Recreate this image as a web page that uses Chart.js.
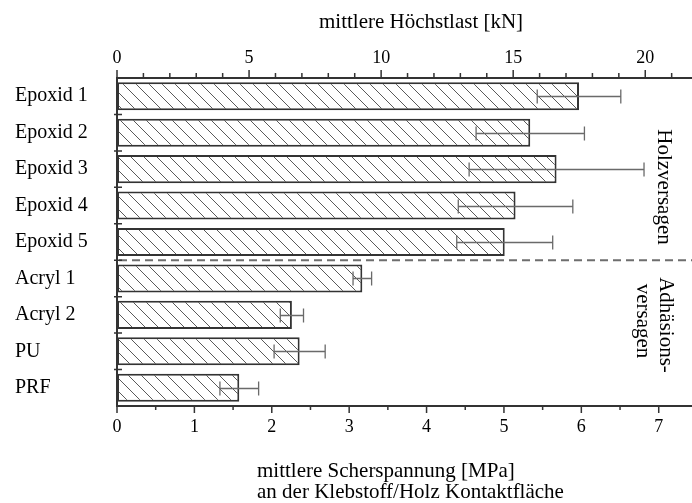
<!DOCTYPE html>
<html>
<head>
<meta charset="utf-8">
<script src="https://cdn.jsdelivr.net/npm/chart.js@4/dist/chart.umd.min.js"></script>
<style>
  html, body { margin: 0; padding: 0; background: #fff; }
  #wrap { width: 692px; height: 503px; }
</style>
</head>
<body>
<div id="wrap"><canvas id="c" width="692" height="503"></canvas></div>
<script>
// Adhesives tested and their mean shear stress at the adhesive/wood contact area
const adhesives = ['Epoxid 1', 'Epoxid 2', 'Epoxid 3', 'Epoxid 4', 'Epoxid 5', 'Acryl 1', 'Acryl 2', 'PU', 'PRF'];
const shearStressMPa = [5.97, 5.34, 5.68, 5.15, 5.01, 3.17, 2.26, 2.36, 1.58];
const shearStressSD = [0.54, 0.70, 1.13, 0.74, 0.62, 0.12, 0.15, 0.33, 0.25];
const stressTicksMPa = [0, 1, 2, 3, 4, 5, 6, 7];
const loadTicksKN = [0, 5, 10, 15, 20];
const KN_PER_MPA = 2.93;        // mean max load per MPa of shear stress
const WOOD_FAILURE_COUNT = 5;   // the epoxies fail in the wood, the rest by adhesion
const X_MAX_MPA = 7.43;

const SERIF = '"Liberation Serif", "Times New Roman", serif';

// diagonal "\\\\" hatching for the bars
function hatchPattern() {
  const s = 13;
  const c = document.createElement('canvas');
  c.width = s; c.height = s;
  const g = c.getContext('2d');
  g.fillStyle = '#fff';
  g.fillRect(0, 0, s, s);
  g.strokeStyle = '#5a5a5a';
  g.lineWidth = 1;
  g.beginPath();
  for (const k of [-s, 0, s]) { g.moveTo(k, 0); g.lineTo(k + s, s); }
  g.stroke();
  return g.createPattern(c, 'repeat');
}

const decorations = {
  id: 'decorations',
  afterDatasetsDraw(chart) {
    const { ctx, chartArea: a, scales: { x, y } } = chart;
    ctx.save();
    // error bars
    ctx.strokeStyle = '#6a6a6a';
    ctx.lineWidth = 1.3;
    shearStressMPa.forEach((v, i) => {
      const yc = Math.round(y.getPixelForValue(i)) + 0.5;
      const lo = x.getPixelForValue(v - shearStressSD[i]);
      const hi = x.getPixelForValue(v + shearStressSD[i]);
      ctx.beginPath();
      ctx.moveTo(lo, yc); ctx.lineTo(hi, yc);
      ctx.moveTo(lo, yc - 7); ctx.lineTo(lo, yc + 7);
      ctx.moveTo(hi, yc - 7); ctx.lineTo(hi, yc + 7);
      ctx.stroke();
    });
    // separator between wood failure and adhesion failure
    const ySep = (y.getPixelForValue(WOOD_FAILURE_COUNT - 1) + y.getPixelForValue(WOOD_FAILURE_COUNT)) / 2;
    ctx.setLineDash([8, 5]);
    ctx.strokeStyle = '#6e6e6e';
    ctx.lineWidth = 2;
    ctx.beginPath();
    ctx.moveTo(a.left + 2, ySep); ctx.lineTo(a.right, ySep);
    ctx.stroke();
    ctx.restore();
  },
  afterDraw(chart) {
    const { ctx, chartArea: a, scales: { x, x2, y } } = chart;
    ctx.save();
    ctx.strokeStyle = '#333';
    ctx.lineWidth = 1.5;
    ctx.beginPath();
    // bottom axis: major every 1 MPa, minor every 0.5 MPa
    for (let v = 0; v <= x.max + 1e-9; v += 0.5) {
      const px = x.getPixelForValue(v);
      const len = Number.isInteger(v) ? 7 : 4;
      ctx.moveTo(px, a.bottom); ctx.lineTo(px, a.bottom + len);
    }
    // top axis: major every 5 kN, minor every 1 kN
    for (let k = 0; k <= x2.max + 1e-9; k += 1) {
      const px = x2.getPixelForValue(k);
      const len = k % 5 === 0 ? 8 : 5;
      ctx.moveTo(px, a.top); ctx.lineTo(px, a.top - len);
    }
    // category separators on the left axis
    for (let i = 1; i < adhesives.length; i++) {
      const yb = (y.getPixelForValue(i - 1) + y.getPixelForValue(i)) / 2;
      ctx.moveTo(a.left - 3, yb); ctx.lineTo(a.left + 5, yb);
    }
    ctx.stroke();

    // axis titles
    ctx.fillStyle = '#000';
    ctx.textAlign = 'left';
    ctx.textBaseline = 'middle';
    ctx.font = '21px ' + SERIF;
    ctx.fillText('mittlere Höchstlast [kN]', 319, 22);
    ctx.fillText('mittlere Scherspannung [MPa]', 257, 471);
    ctx.fillText('an der Klebstoff/Holz Kontaktfläche', 257, 492);

    // failure mode labels, reading top to bottom
    ctx.textAlign = 'center';
    ctx.font = '21px ' + SERIF;
    const vertical = (text, cx, cy) => {
      ctx.save();
      ctx.translate(cx, cy);
      ctx.rotate(Math.PI / 2);
      ctx.fillText(text, 0, 0);
      ctx.restore();
    };
    vertical('Holzversagen', 664, 187);
    vertical('Adhäsions-', 666, 325);
    vertical('versagen', 643, 321);
    ctx.restore();
  }
};

new Chart(document.getElementById('c'), {
  type: 'bar',
  data: {
    labels: adhesives,
    datasets: [{
      data: shearStressMPa,
      xAxisID: 'x',
      yAxisID: 'y',
      backgroundColor: hatchPattern(),
      borderColor: '#333',
      borderWidth: 2,
      borderSkipped: false,
      categoryPercentage: 1,
      barPercentage: 0.77
    }]
  },
  options: {
    indexAxis: 'y',
    responsive: false,
    animation: false,
    devicePixelRatio: 1,
    layout: { padding: { left: 15, right: 0, top: 0, bottom: 0 } },
    plugins: { legend: { display: false }, tooltip: { enabled: false } },
    scales: {
      x: {
        type: 'linear',
        position: 'bottom',
        min: 0,
        max: X_MAX_MPA,
        afterBuildTicks: s => { s.ticks = stressTicksMPa.map(v => ({ value: v })); },
        ticks: { color: '#000', font: { family: SERIF, size: 18 }, padding: 10, maxRotation: 0 },
        grid: { display: false, drawTicks: false },
        border: { display: true, color: '#333', width: 2 },
        afterFit: s => { s.height = 97; }
      },
      x2: {
        type: 'linear',
        position: 'top',
        min: 0,
        max: X_MAX_MPA * KN_PER_MPA,
        afterBuildTicks: s => { s.ticks = loadTicksKN.map(v => ({ value: v })); },
        ticks: { color: '#000', font: { family: SERIF, size: 18 }, padding: 9, maxRotation: 0 },
        grid: { display: false, drawTicks: false },
        border: { display: true, color: '#333', width: 2 },
        afterFit: s => { s.height = 78; }
      },
      y: {
        type: 'category',
        position: 'left',
        offset: true,
        ticks: { color: '#000', font: { family: SERIF, size: 20 }, crossAlign: 'far', padding: 0 },
        grid: { display: false, drawTicks: false },
        border: { display: true, color: '#333', width: 2 },
        afterFit: s => { s.width = 102; }
      }
    }
  },
  plugins: [decorations]
});
</script>
</body>
</html>
